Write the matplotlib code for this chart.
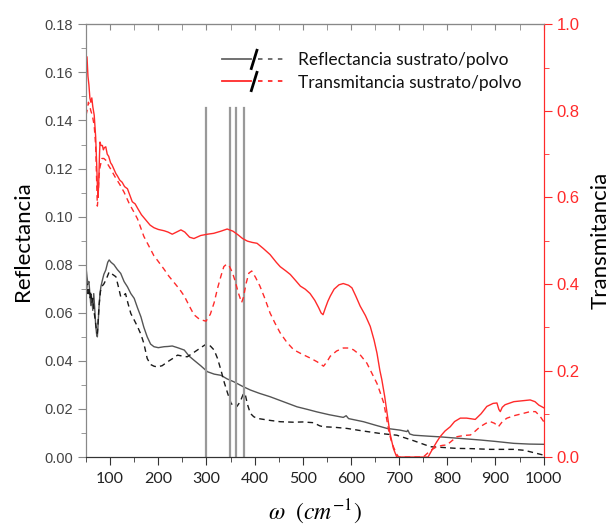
import numpy as np
import matplotlib
matplotlib.use('Agg')
import matplotlib.pyplot as plt
from matplotlib.lines import Line2D
from matplotlib.legend_handler import HandlerBase
from matplotlib.ticker import MultipleLocator, FormatStrFormatter

plt.rcParams['mathtext.fontset'] = 'stix'

# --- Transmitancia (eje derecho) ---
t_sol_x = [50, 52, 54, 56, 58, 60, 62, 64, 67, 70, 72, 73.5, 75, 76.5, 78, 79, 81, 84, 86, 88, 91, 94, 97,
           101, 104, 108, 112, 115, 120, 125, 130, 136, 141, 146, 152, 157, 165, 174, 183, 191, 200, 212,
           220, 229, 238, 247, 255, 265, 274, 288, 302, 315, 330, 343, 355, 365, 375, 385, 395, 405, 418,
           432, 445, 453, 465, 474, 485, 495, 505, 515, 525, 533, 538, 542, 547, 552, 557, 565, 575, 584,
           595, 602, 610, 619, 630, 640, 648, 654, 660, 664, 670, 675, 681, 688, 695, 700, 760, 770, 778,
           785, 795, 806, 815, 827, 840, 858, 870, 882, 895, 903, 907, 910, 914, 920, 938, 955, 972, 982,
           990, 1000]
t_sol_y = [0.90, 0.925, 0.88, 0.86, 0.83, 0.82, 0.83, 0.81, 0.79, 0.74, 0.68, 0.63, 0.60, 0.64, 0.70, 0.728,
           0.72, 0.72, 0.71, 0.715, 0.717, 0.70, 0.695, 0.68, 0.675, 0.665, 0.655, 0.65, 0.64, 0.635, 0.625,
           0.62, 0.605, 0.59, 0.585, 0.575, 0.56, 0.548, 0.536, 0.53, 0.526, 0.523, 0.52, 0.515, 0.52, 0.525,
           0.52, 0.508, 0.505, 0.512, 0.515, 0.517, 0.522, 0.527, 0.522, 0.514, 0.505, 0.499, 0.496, 0.494,
           0.482, 0.468, 0.45, 0.44, 0.43, 0.422, 0.408, 0.395, 0.388, 0.378, 0.362, 0.345, 0.333, 0.329,
           0.345, 0.36, 0.372, 0.388, 0.398, 0.401, 0.397, 0.391, 0.372, 0.349, 0.327, 0.302, 0.27, 0.24,
           0.20, 0.179, 0.14, 0.101, 0.055, 0.02, 0.0, 0.0, 0.0, 0.02, 0.035, 0.047, 0.06, 0.07, 0.082,
           0.09, 0.09, 0.087, 0.10, 0.117, 0.124, 0.125, 0.11, 0.105, 0.115, 0.121, 0.128, 0.13, 0.132,
           0.128, 0.12, 0.114]

t_pol_x = [50, 52, 55, 58, 60, 63, 67, 70, 72, 73.5, 75, 77, 79, 83, 87, 92, 96, 101, 110, 120, 129, 140,
           150, 157, 170, 184, 191, 198, 212, 222, 233, 244, 254, 264, 274, 286, 299, 308, 316, 323, 330,
           336, 342, 348, 354, 360, 366, 373, 377, 382, 388, 394, 402, 411, 420, 432, 442, 453, 467, 481,
           498, 515, 530, 543, 550, 557, 570, 584, 595, 605, 620, 633, 645, 654, 661, 668, 673, 678, 683,
           688, 694, 699, 750, 765, 778, 790, 799, 810, 820, 835, 848, 858, 868, 880, 889, 898, 906, 915,
           924, 940, 958, 972, 983, 992, 1000]
t_pol_y = [0.79, 0.80, 0.82, 0.81, 0.80, 0.79, 0.766, 0.72, 0.64, 0.58, 0.60, 0.65, 0.67, 0.69, 0.69, 0.685,
           0.675, 0.666, 0.648, 0.63, 0.612, 0.585, 0.565, 0.55, 0.51, 0.48, 0.465, 0.455, 0.434, 0.418,
           0.403, 0.388, 0.372, 0.35, 0.329, 0.318, 0.314, 0.33, 0.357, 0.39, 0.418, 0.44, 0.446, 0.44,
           0.426, 0.405, 0.38, 0.357, 0.37, 0.40, 0.425, 0.43, 0.415, 0.395, 0.37, 0.333, 0.31, 0.287,
           0.265, 0.248, 0.238, 0.229, 0.22, 0.21, 0.22, 0.233, 0.245, 0.252, 0.252, 0.248, 0.235, 0.217,
           0.19, 0.17, 0.148, 0.125, 0.095, 0.063, 0.04, 0.024, 0.008, 0.0, 0.0, 0.015, 0.024, 0.027,
           0.028, 0.038, 0.047, 0.05, 0.051, 0.06, 0.07, 0.078, 0.082, 0.078, 0.07, 0.083, 0.09, 0.096,
           0.101, 0.105, 0.105, 0.095, 0.082]

# --- Reflectancia (eje izquierdo) ---
r_sol_x = [50, 52, 54, 56, 58, 60, 62, 64, 66, 68, 70, 72, 73.5, 75, 77, 79, 81, 84, 87, 91, 95, 98, 102,
           108, 115, 122, 129, 136, 143, 150, 157, 164, 170, 177, 184, 191, 200, 212, 220, 229, 240, 254,
           264, 274, 288, 302, 316, 330, 343, 357, 374, 391, 410, 432, 460, 488, 510, 529, 555, 584, 590,
           595, 626, 650, 675, 702, 716, 718, 722, 730, 760, 785, 830, 868, 900, 938, 970, 1000]
r_sol_y = [0.079, 0.075, 0.072, 0.073, 0.068, 0.063, 0.066, 0.061, 0.068, 0.062, 0.055, 0.051, 0.050,
           0.055, 0.0625, 0.068, 0.071, 0.0736, 0.076, 0.0778, 0.081, 0.082, 0.081, 0.080, 0.078, 0.0764,
           0.073, 0.0708, 0.068, 0.066, 0.062, 0.0583, 0.054, 0.050, 0.047, 0.0459, 0.0455, 0.0459,
           0.046, 0.0462, 0.0455, 0.0445, 0.042, 0.0403, 0.038, 0.0355, 0.0345, 0.034, 0.0325, 0.0313,
           0.0295, 0.0279, 0.0265, 0.0251, 0.023, 0.0209, 0.0198, 0.0188, 0.0176, 0.0165, 0.0172, 0.016,
           0.0147, 0.0133, 0.0119, 0.0112, 0.0106, 0.0112, 0.0096, 0.0091, 0.0087, 0.0084, 0.0077,
           0.0071, 0.0065, 0.0057, 0.0054, 0.0053]

r_pol_x = [50, 52, 54, 56, 58, 60, 62, 64, 67, 70, 72, 73.5, 75, 77, 80, 83, 87, 92, 98, 105, 112, 117,
           122, 127, 132, 137, 143, 150, 157, 164, 170, 177, 184, 191, 198, 208, 219, 230, 240, 250, 260,
           270, 281, 292, 302, 309, 316, 323, 330, 337, 344, 351, 357, 363, 370, 376, 380, 385, 391, 398,
           405, 430, 453, 480, 500, 522, 535, 543, 565, 592, 620, 661, 695, 730, 765, 790, 820, 850, 889,
           938, 960, 980, 1000]
r_pol_y = [0.066, 0.072, 0.068, 0.070, 0.066, 0.069, 0.064, 0.066, 0.060, 0.0556, 0.052, 0.0515, 0.056,
           0.063, 0.069, 0.071, 0.072, 0.074, 0.077, 0.076, 0.075, 0.071, 0.0667, 0.067, 0.068, 0.064,
           0.0597, 0.057, 0.0542, 0.051, 0.0473, 0.041, 0.0385, 0.0378, 0.0375, 0.038, 0.0396, 0.041,
           0.0424, 0.042, 0.0417, 0.043, 0.0445, 0.046, 0.0473, 0.046, 0.0445, 0.041, 0.0362, 0.031,
           0.0265, 0.0224, 0.021, 0.021, 0.023, 0.026, 0.0265, 0.022, 0.0182, 0.0168, 0.0161, 0.0153,
           0.0147, 0.0145, 0.0146, 0.0143, 0.013, 0.0126, 0.0124, 0.0119, 0.011, 0.0098, 0.0091, 0.0068,
           0.0043, 0.004, 0.0036, 0.0035, 0.0032, 0.0032, 0.0028, 0.0018, 0.0008]

# lineas verticales (cm^-1)
v_lines = [300, 349, 361, 377]
v_top = 0.145

RED = '#ff2a2a'


class HandlerSlash(HandlerBase):
    """solido / discontinuo, como en la leyenda de Origin"""
    def create_artists(self, legend, orig_handle, xdescent, ydescent, width, height, fontsize, trans):
        c = orig_handle.get_color()
        y = height / 2 - ydescent
        x0 = -xdescent
        l1 = Line2D([x0, x0 + 0.47 * width], [y, y], color=c, lw=1.3, transform=trans)
        l2 = Line2D([x0 + 0.58 * width, x0 + width], [y, y], color=c, lw=1.3,
                    ls=(0, (2.5, 3)), transform=trans)
        s = Line2D([x0 + 0.47 * width, x0 + 0.56 * width], [y - 0.75 * height, y + 0.75 * height],
                   color='black', lw=2.0, transform=trans)
        return [l1, l2, s]


fig = plt.figure(figsize=(6.11, 5.29), dpi=100)
ax = fig.add_axes([0.1408, 0.136, 0.749, 0.818])
ax2 = ax.twinx()

ax.plot(r_sol_x, r_sol_y, color='#555555', lw=1.0)
ax.plot(r_pol_x, r_pol_y, color='#1a1a1a', lw=1.0, ls=(0, (4, 3)))
for v in v_lines:
    ax.plot([v, v], [0, v_top], color='#999999', lw=1.6)

ax2.plot(t_sol_x, t_sol_y, color=RED, lw=1.0)
ax2.plot(t_pol_x, t_pol_y, color=RED, lw=1.0, ls=(0, (4, 3)))

ax.set_xlim(50, 1000)
ax.set_ylim(0, 0.18)
ax2.set_ylim(0, 1.0)

ax.xaxis.set_major_locator(MultipleLocator(100))
ax.xaxis.set_minor_locator(MultipleLocator(50))
ax.yaxis.set_major_locator(MultipleLocator(0.02))
ax.yaxis.set_minor_locator(MultipleLocator(0.01))
ax.yaxis.set_major_formatter(FormatStrFormatter('%.2f'))
ax2.yaxis.set_major_locator(MultipleLocator(0.2))
ax2.yaxis.set_minor_locator(MultipleLocator(0.1))
ax2.yaxis.set_major_formatter(FormatStrFormatter('%.1f'))

for a in (ax, ax2):
    a.spines['top'].set_color('#888888')
    a.spines['left'].set_color('#888888')
    a.spines['bottom'].set_color('#333333')
    a.spines['right'].set_color(RED)

ax.tick_params(axis='y', which='major', direction='out', length=6, color='#888888',
               labelcolor='#444444', labelsize=10.5)
ax.tick_params(axis='y', which='minor', direction='out', length=3.5, color='#888888')
for lab in ax.get_yticklabels():
    lab.set_family('Liberation Sans')
ax.tick_params(axis='x', which='major', direction='out', length=6, color='#333333',
               labelcolor='#222222', labelsize=11.5, pad=5)
ax.tick_params(axis='x', which='minor', direction='out', length=3.5, color='#333333')
for lab in ax.get_xticklabels():
    lab.set_family('Lato')

ax2.tick_params(axis='y', which='major', direction='out', length=6, color=RED,
                labelcolor=RED, labelsize=12)
ax2.tick_params(axis='y', which='minor', direction='out', length=3.5, color=RED)
for lab in ax2.get_yticklabels():
    lab.set_family('Liberation Sans')

top = ax.secondary_xaxis('top')
top.xaxis.set_major_locator(MultipleLocator(100))
top.xaxis.set_minor_locator(MultipleLocator(50))
top.tick_params(which='both', direction='in', length=4, color='#888888', labeltop=False)
top.spines['top'].set_color('#888888')

ax.set_ylabel('Reflectancia', fontsize=16, family='Lato', labelpad=8)
ax2.set_ylabel('Transmitancia', fontsize=16, family='Lato', labelpad=8)
ax.set_xlabel(r'$\omega\ \ (cm^{-1})$', fontsize=17, labelpad=8)

h1 = Line2D([], [], color='#666666')
h2 = Line2D([], [], color=RED)
leg = ax.legend([h1, h2], ['Reflectancia sustrato/polvo', 'Transmitancia sustrato/polvo'],
                handler_map={Line2D: HandlerSlash()}, loc='upper left',
                bbox_to_anchor=(0.278, 0.955), frameon=False, borderpad=0,
                handlelength=3.6, handletextpad=0.8, labelspacing=0.35,
                prop={'family': 'Lato', 'size': 12.5})
for t in leg.get_texts():
    t.set_color('#111111')

fig.savefig('out.png', dpi=100)
